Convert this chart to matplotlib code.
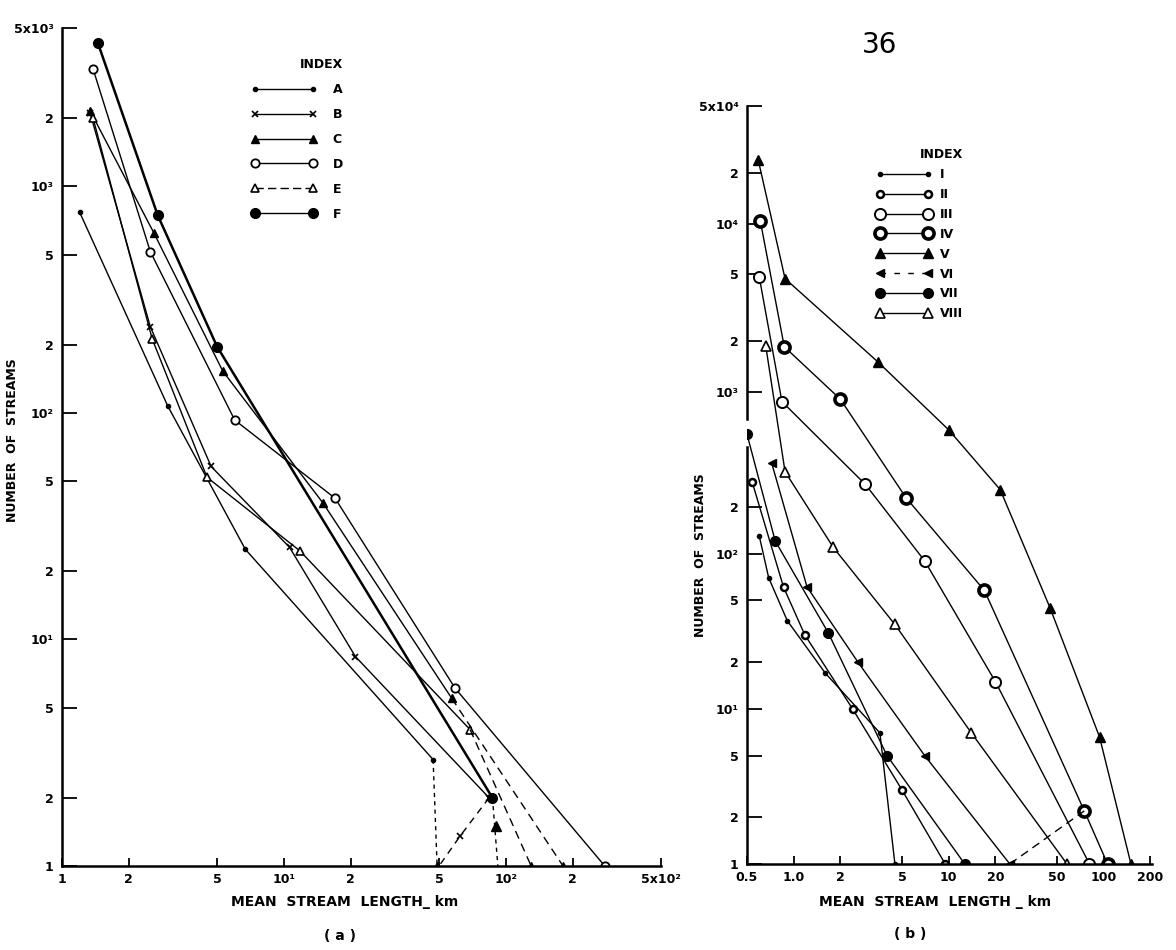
import numpy as np
import matplotlib
matplotlib.use("Agg")
import matplotlib.pyplot as plt
from matplotlib.lines import Line2D
from matplotlib.ticker import FixedLocator, FixedFormatter, NullLocator

plt.rcParams["font.family"] = ["DejaVu Sans"]
plt.rcParams["font.weight"] = "bold"

# ---------------- panel (a) ----------------
A_x = [1.2, 3.0, 6.7, 47]
A_y = [770, 107, 25, 2.95]
A_tail_x = [47, 49]
A_tail_y = [2.95, 1]

B_x = [1.34, 2.5, 4.7, 10.6, 21, 84]
B_y = [2100, 240, 58, 25.5, 8.4, 2.0]
B_tail_x = [84, 62, 50]
B_tail_y = [2.0, 1.35, 1]

C_x = [1.34, 2.6, 5.3, 15, 57]
C_y = [2150, 620, 153, 40, 5.5]
C_tail_x = [57, 181]
C_tail_y = [5.5, 1]

D_x = [1.38, 2.5, 6.0, 17, 59, 279]
D_y = [3300, 515, 93, 42, 6.1, 1]

E_x = [1.38, 2.55, 4.5, 11.8, 69]
E_y = [2000, 212, 52, 24.6, 4.0]
E_tail_x = [69, 130]
E_tail_y = [4.0, 1]

F_x = [1.45, 2.7, 5.0, 87]
F_y = [4300, 745, 196, 2.0]
F_tail_x = [87, 92]
F_tail_y = [2.0, 1]

stray_x = [90]
stray_y = [1.5]

a_xticks = [1, 2, 5, 10, 20, 50, 100, 200, 500]
a_xlabels = ["1", "2", "5", "10¹", "2", "5", "10²", "2", "5x10²"]
a_yticks = [1, 2, 5, 10, 20, 50, 100, 200, 500, 1000, 2000, 5000]
a_ylabels = ["1", "2", "5", "10¹", "2", "5", "10²", "2", "5", "10³", "2", "5x10³"]

# ---------------- panel (b) ----------------
I_x = [0.6, 0.69, 0.91, 1.6, 3.6, 4.5]
I_y = [130, 70, 37, 17, 7, 1]
II_x = [0.54, 0.86, 1.18, 2.4, 5.0, 9.5]
II_y = [290, 61, 30, 10, 3, 1]
III_x = [0.6, 0.84, 2.9, 7.0, 20, 81]
III_y = [4800, 870, 280, 90, 15, 1]
IV_x = [0.61, 0.87, 2.0, 5.3, 17, 75, 106]
IV_y = [10300, 1850, 900, 230, 58, 2.2, 1]
V_x = [0.59, 0.88, 3.5, 10, 21.5, 45, 94, 150]
V_y = [24000, 4700, 1500, 600, 259, 45, 6.6, 1]
VI_x = [0.72, 1.22, 2.6, 7.0, 24.8]
VI_y = [387, 61, 20, 5, 1]
VI_tail_x = [24.8, 75]
VI_tail_y = [1, 2.2]
VII_x = [0.5, 0.76, 1.67, 4.0, 12.7]
VII_y = [570, 121, 31, 5, 1]
VIII_x = [0.66, 0.88, 1.8, 4.5, 14, 58]
VIII_y = [1880, 338, 110, 35, 7, 1]

b_xticks = [0.5, 1, 2, 5, 10, 20, 50, 100, 200]
b_xlabels = ["0.5", "1.0", "2", "5", "10", "20", "50", "100", "200"]
b_yticks = [1, 2, 5, 10, 20, 50, 100, 200, 1000, 2000, 5000, 10000, 20000, 50000]
b_ylabels = ["1", "2", "5", "10¹", "2", "5", "10²", "2", "10³", "2", "5", "10⁴", "2", "5x10⁴"]

# broken log axis on (b): lower part and upper part drawn at slightly different scales
LK = [-3, 0, 2.7, 2.83, 3, 4.699, 8]
PK = [-465, 0, 418.5, 444, 472, 757.4, 1312]


def fwd(y):
    y = np.clip(np.asarray(y, dtype=float), 1e-9, None)
    return np.interp(np.log10(y), LK, PK)


def inv(p):
    return 10 ** np.interp(np.asarray(p, dtype=float), PK, LK)


fig = plt.figure(figsize=(11.76, 9.5), dpi=100)
W, H = 1176, 950
ax_a = fig.add_axes([62 / W, 1 - 866 / H, (661 - 62) / W, (866 - 28) / H])
ax_b = fig.add_axes([747 / W, 1 - 864 / H, (1152 - 747) / W, (864 - 106) / H])

for ax in (ax_a, ax_b):
    ax.spines["top"].set_visible(False)
    ax.spines["right"].set_visible(False)
    ax.spines["bottom"].set_linewidth(1.8)
    ax.spines["left"].set_linewidth(1.8)
    ax.patch.set_alpha(0)

lw = 1.0
ax_a.plot(A_x, A_y, color="k", lw=lw, marker=".", ms=6)
ax_a.plot(A_tail_x, A_tail_y, color="k", lw=lw, ls=(0, (3, 3)), marker="^", ms=6, markevery=[1])
ax_a.plot(B_x, B_y, color="k", lw=lw, marker="x", ms=5, mew=1.2)
ax_a.plot(B_tail_x, B_tail_y, color="k", lw=lw, ls=(0, (5, 4)), marker="x", ms=5, mew=1.2, markevery=[1])
ax_a.plot(C_x, C_y, color="k", lw=lw, marker="^", ms=6)
ax_a.plot(C_tail_x, C_tail_y, color="k", lw=lw, ls=(0, (6, 4)), marker="^", ms=6, markevery=[1])
ax_a.plot(D_x, D_y, color="k", lw=lw, marker="o", ms=6, mfc="white", mew=1.3)
ax_a.plot(E_x, E_y, color="k", lw=lw, marker="^", ms=6, mfc="white", mew=1.2)
ax_a.plot(E_tail_x, E_tail_y, color="k", lw=lw, ls=(0, (6, 4)), marker="^", ms=6, markevery=[1])
ax_a.plot(F_x, F_y, color="k", lw=1.8, marker="o", ms=7)
ax_a.plot(F_tail_x, F_tail_y, color="k", lw=lw, ls=(0, (3, 3)))
ax_a.plot(stray_x, stray_y, ls="none", color="k", marker="^", ms=7)

ax_a.set_xscale("log")
ax_a.set_yscale("log")
ax_a.set_xlim(1, 500)
ax_a.set_ylim(1, 5000)
ax_a.xaxis.set_major_locator(FixedLocator(a_xticks))
ax_a.xaxis.set_major_formatter(FixedFormatter(a_xlabels))
ax_a.yaxis.set_major_locator(FixedLocator(a_yticks))
ax_a.yaxis.set_major_formatter(FixedFormatter(a_ylabels))

ax_b.plot(I_x, I_y, color="k", lw=lw, marker=".", ms=6)
ax_b.plot(II_x, II_y, color="k", lw=lw, marker="o", ms=5, mfc="white", mew=1.8)
ax_b.plot(III_x, III_y, color="k", lw=lw, marker="o", ms=8, mfc="white", mew=1.4)
ax_b.plot(IV_x, IV_y, color="k", lw=lw, marker="o", ms=8, mfc="white", mew=2.6)
ax_b.plot(V_x, V_y, color="k", lw=lw, marker="^", ms=7)
ax_b.plot(VI_x, VI_y, color="k", lw=lw, marker="<", ms=6)
ax_b.plot(VI_tail_x, VI_tail_y, color="k", lw=lw, ls=(0, (6, 4)))
ax_b.plot(VII_x, VII_y, color="k", lw=lw, marker="o", ms=7)
ax_b.plot(VIII_x, VIII_y, color="k", lw=lw, marker="^", ms=7, mfc="white", mew=1.2)

ax_b.set_xscale("log")
ax_b.set_yscale("function", functions=(fwd, inv))
ax_b.set_xlim(0.5, 205)
ax_b.set_ylim(1, 50000)
ax_b.xaxis.set_major_locator(FixedLocator(b_xticks))
ax_b.xaxis.set_major_formatter(FixedFormatter(b_xlabels))
ax_b.yaxis.set_major_locator(FixedLocator(b_yticks))
ax_b.yaxis.set_major_formatter(FixedFormatter(b_ylabels))

# the y axis of (b) is drawn in two pieces with a gap
ax_b.spines["left"].set_visible(False)
ytr = ax_b.get_yaxis_transform()
ax_b.plot([0, 0], [1, 490], transform=ytr, color="k", lw=1.8, clip_on=False)
ax_b.plot([0, 0], [680, 50000], transform=ytr, color="k", lw=1.8, clip_on=False)

for ax in (ax_a, ax_b):
    ax.xaxis.set_minor_locator(NullLocator())
    ax.yaxis.set_minor_locator(NullLocator())
    ax.tick_params(axis="y", direction="in", length=11, width=1.3, labelsize=9, pad=6)
    ax.tick_params(axis="x", direction="in", length=6, width=1.3, labelsize=9, pad=5)

# legends
a_handles = [
    Line2D([], [], color="k", lw=lw, marker=".", ms=6),
    Line2D([], [], color="k", lw=lw, marker="x", ms=5, mew=1.2),
    Line2D([], [], color="k", lw=lw, marker="^", ms=6),
    Line2D([], [], color="k", lw=lw, marker="o", ms=6, mfc="white", mew=1.3),
    Line2D([], [], color="k", lw=lw, ls=(0, (6, 3)), marker="^", ms=6, mfc="white", mew=1.2),
    Line2D([], [], color="k", lw=lw, marker="o", ms=7),
]
leg_a = ax_a.legend(a_handles, ["A", "B", "C", "D", "E", "F"], title="INDEX",
                    loc="upper left", bbox_to_anchor=(245 / W, 1 - 52 / H),
                    bbox_transform=fig.transFigure, frameon=False, numpoints=2,
                    handlelength=5.2, handletextpad=1.3, labelspacing=0.95,
                    borderpad=0, fontsize=9, title_fontsize=9)
leg_a._legend_box.align = "right"
leg_a.get_title().set_fontweight("bold")

b_handles = [
    Line2D([], [], color="k", lw=lw, marker=".", ms=6),
    Line2D([], [], color="k", lw=lw, marker="o", ms=5, mfc="white", mew=1.8),
    Line2D([], [], color="k", lw=lw, marker="o", ms=8, mfc="white", mew=1.4),
    Line2D([], [], color="k", lw=lw, marker="o", ms=8, mfc="white", mew=2.6),
    Line2D([], [], color="k", lw=lw, marker="^", ms=7),
    Line2D([], [], color="k", lw=lw, ls=(0, (4, 6)), marker="<", ms=6),
    Line2D([], [], color="k", lw=lw, marker="o", ms=7),
    Line2D([], [], color="k", lw=lw, marker="^", ms=7, mfc="white", mew=1.2),
]
leg_b = ax_b.legend(b_handles, ["I", "II", "III", "IV", "V", "VI", "VII", "VIII"], title="INDEX",
                    loc="upper left", bbox_to_anchor=(870 / W, 1 - 142 / H),
                    bbox_transform=fig.transFigure, frameon=False, numpoints=2,
                    handlelength=4.4, handletextpad=0.7, labelspacing=0.55,
                    borderpad=0, fontsize=9, title_fontsize=9)
leg_b._legend_box.align = "right"
leg_b.get_title().set_fontweight("bold")

# axis titles and captions
fig.text(345 / W, 1 - 902 / H, "MEAN  STREAM  LENGTH_ km", ha="center", va="center", fontsize=10)
fig.text(340 / W, 1 - 936 / H, "( a )", ha="center", va="center", fontsize=10)
fig.text(935 / W, 1 - 902 / H, "MEAN  STREAM  LENGTH _ km", ha="center", va="center", fontsize=10)
fig.text(910 / W, 1 - 934 / H, "( b )", ha="center", va="center", fontsize=10)
fig.text(13 / W, 1 - 440 / H, "NUMBER  OF  STREAMS", rotation=90, ha="center", va="center", fontsize=9)
fig.text(701 / W, 1 - 555 / H, "NUMBER  OF  STREAMS", rotation=90, ha="center", va="center", fontsize=9)
fig.text(880 / W, 1 - 45 / H, "36", ha="center", va="center", fontsize=20, fontweight="normal")

fig.savefig("out.png", dpi=100)
